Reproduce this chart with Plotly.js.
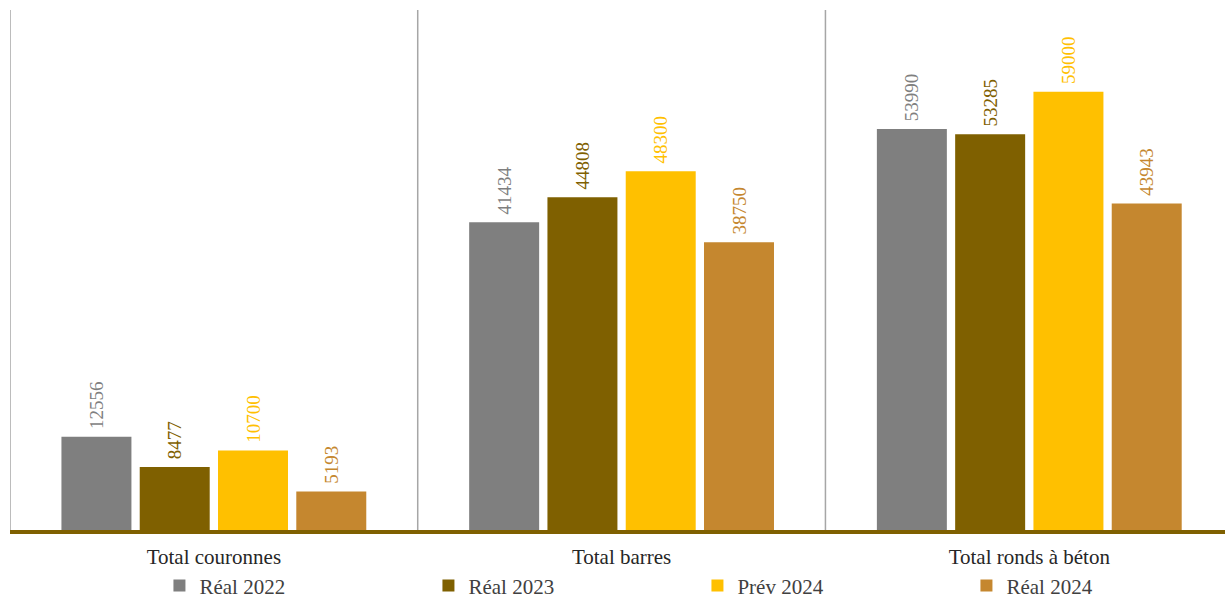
<!DOCTYPE html>
<html><head><meta charset="utf-8">
<script src="https://cdn.plot.ly/plotly-3.0.1.min.js"></script>
<style>html,body{margin:0;padding:0;background:#fff}#c{width:1225px;height:598px}</style>
</head><body><div id="c"></div>
<script>
const categories = ["Total couronnes", "Total barres", "Total ronds à béton"];
const seriesNames = ["Réal 2022", "Réal 2023", "Prév 2024", "Réal 2024"];
const real2022 = [12556, 41434, 53990];
const real2023 = [8477, 44808, 53285];
const prev2024 = [10700, 48300, 59000];
const real2024 = [5193, 38750, 43943];
const colors = ["#7f7f7f", "#7f6000", "#ffc000", "#c5872f"];
const values = [real2022, real2023, prev2024, real2024];
const FONT = "Liberation Serif, Times New Roman, serif";

const traces = values.map((v, i) => ({
  type: "bar", x: categories, y: v, name: seriesNames[i],
  marker: {color: colors[i]},
  text: v.map(n => "\u00a0" + n), textposition: "outside", textangle: -90,
  textfont: {family: FONT, size: 19, color: colors[i]},
  cliponaxis: false, hoverinfo: "x+y+name"
}));

const shapes = [-0.5, 0.5, 1.5].map(p => ({
  type: "line", xref: "x", yref: "paper", x0: p, x1: p, y0: 0, y1: 1,
  line: {color: "#a6a6a6", width: 1.5}, layer: "below"
}));

const layout = {
  width: 1225, height: 598,
  margin: {l: 10, r: 0, t: 10, b: 68, autoexpand: false},
  paper_bgcolor: "#fff", plot_bgcolor: "#fff",
  barmode: "group", bargap: 0.232, bargroupgap: 0.106,
  font: {family: FONT, size: 21, color: "#262626"},
  xaxis: {showline: true, linecolor: "#7f6000", linewidth: 4, ticks: "",
          ticklabelstandoff: 5,
          showgrid: false, tickfont: {family: FONT, size: 21, color: "#262626"},
          range: [-0.5, 2.48], fixedrange: true, automargin: false},
  yaxis: {visible: false, range: [0, 70000], showgrid: false, zeroline: false},
  showlegend: true,
  legend: {orientation: "h", x: 0.123, xanchor: "left", y: -0.068, yanchor: "top",
           font: {family: FONT, size: 21, color: "#404040"},
           entrywidth: 224, entrywidthmode: "pixels", itemwidth: 30,
           traceorder: "normal"},
  shapes: shapes
};
Plotly.newPlot("c", traces, layout, {displayModeBar: false, staticPlot: true});
</script></body></html>
